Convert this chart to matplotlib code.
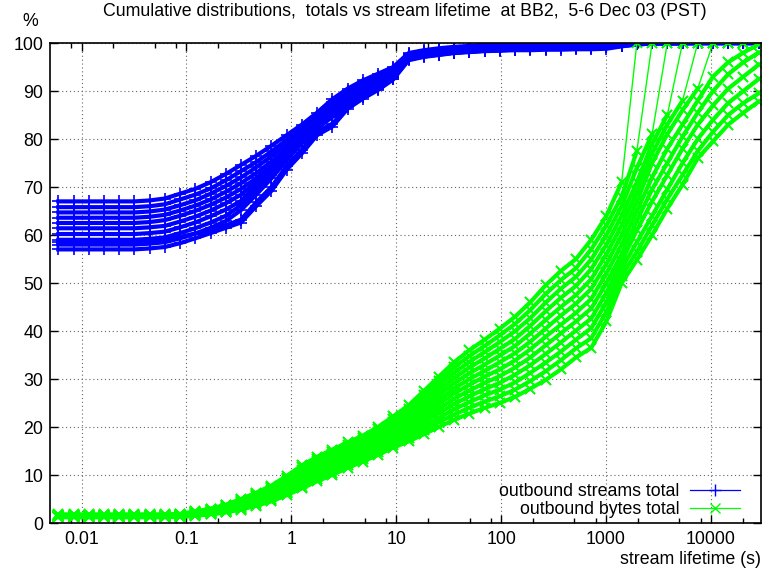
import numpy as np
import matplotlib
matplotlib.use("Agg")
from matplotlib import pyplot as plt
from matplotlib.ticker import FixedLocator, NullFormatter

plt.rcParams['font.family'] = ['Liberation Sans', 'DejaVu Sans']
plt.rcParams['font.size'] = 12.8

# lifetime bins (s)
lifetime_s = [0.0060, 0.0084, 0.0117, 0.0163, 0.0228, 0.0319, 0.0446, 0.0622, 0.0869,
              0.121, 0.170, 0.237, 0.331, 0.462, 0.646, 0.902, 1.26, 1.76, 2.46, 3.44,
              4.80, 6.70, 9.36, 13.1, 18.3, 25.5, 35.6, 49.8, 69.6, 97.1, 136, 190,
              265, 370, 517, 722, 1008, 1408, 1967, 2748, 3837, 5360, 7487, 10460,
              14610, 20410, 28500]

# cumulative % of outbound streams, one list per interval
streams_pct = [
    [57.0, 57.0, 57.0, 57.0, 57.0, 57.0, 57.2, 57.5, 58.3, 59.3, 60.4, 61.5,
     62.6, 66.0, 69.2, 73.6, 77.0, 80.8, 82.6, 86.3, 88.4, 90.2, 92.4,
     96.4, 97.1, 97.5, 97.9, 98.1, 98.3, 98.4, 98.5, 98.5, 98.6, 98.6, 98.7, 98.7, 98.8,
     99.3, 99.7, 99.9, 99.9, 99.9, 100, 100, 100, 100, 100],
    [58.5, 58.5, 58.5, 58.5, 58.5, 58.5, 58.7, 59.0, 59.6, 60.3, 61.0, 62.0,
     63.2, 66.8, 70.0, 74.4, 77.8, 81.5, 83.2, 86.6, 88.8, 90.6, 92.7,
     96.6, 97.2, 97.6, 98.0, 98.2, 98.4, 98.5, 98.6, 98.7, 98.8, 98.9, 99.0, 99.0, 99.1,
     99.4, 99.7, 99.9, 99.9, 100, 100, 100, 100, 100, 100],
    [58.0, 58.0, 58.0, 58.0, 58.0, 58.0, 58.2, 58.5, 59.3, 60.3, 61.5, 62.9,
     65.2, 68.4, 71.8, 75.6, 79.1, 82.2, 84.6, 86.8, 88.8, 90.5, 92.6,
     96.6, 97.2, 97.6, 98.0, 98.2, 98.4, 98.5, 98.6, 98.7, 98.8, 98.9, 99.0, 99.0, 99.1,
     99.4, 99.7, 99.9, 100, 100, 100, 100, 100, 100, 100],
    [59.0, 59.0, 59.0, 59.0, 59.0, 59.0, 59.2, 59.5, 60.4, 61.4, 62.6, 64.0,
     66.2, 69.3, 72.6, 76.3, 79.7, 82.7, 85.1, 87.2, 89.2, 90.9, 92.9,
     96.7, 97.4, 97.8, 98.2, 98.4, 98.6, 98.7, 98.8, 98.9, 99.0, 99.1, 99.2, 99.2, 99.3,
     99.5, 99.8, 100, 100, 100, 100, 100, 100, 100, 100],
    [60.2, 60.2, 60.2, 60.2, 60.2, 60.2, 60.4, 60.7, 61.6, 62.6, 63.9, 65.3,
     67.1, 70.3, 73.4, 77.0, 80.2, 83.1, 85.6, 87.6, 89.6, 91.2, 93.2,
     96.9, 97.5, 98.0, 98.3, 98.6, 98.8, 98.9, 99.0, 99.1, 99.2, 99.3, 99.3, 99.4, 99.4,
     99.6, 99.8, 100, 100, 100, 100, 100, 100, 100, 100],
    [61.4, 61.4, 61.4, 61.4, 61.4, 61.4, 61.6, 61.9, 62.8, 63.8, 65.1, 66.6,
     68.4, 71.0, 74.2, 77.6, 80.7, 83.6, 86.0, 88.0, 90.0, 91.6, 93.5,
     97.1, 97.7, 98.1, 98.5, 98.7, 98.9, 99.0, 99.1, 99.2, 99.3, 99.4, 99.4, 99.5, 99.5,
     99.6, 99.8, 100, 100, 100, 100, 100, 100, 100, 100],
    [62.5, 62.5, 62.5, 62.5, 62.5, 62.5, 62.7, 63.1, 64.0, 65.0, 66.3, 67.8,
     69.6, 71.8, 74.6, 77.9, 80.9, 83.8, 86.2, 88.5, 90.4, 92.0, 93.8,
     97.2, 97.8, 98.2, 98.6, 98.8, 99.0, 99.1, 99.2, 99.3, 99.4, 99.5, 99.5, 99.6, 99.6,
     99.7, 99.9, 100, 100, 100, 100, 100, 100, 100, 100],
    [63.6, 63.6, 63.6, 63.6, 63.6, 63.6, 63.8, 64.2, 65.1, 66.1, 67.4, 69.0,
     70.8, 72.9, 75.3, 78.0, 80.6, 83.5, 86.5, 89.0, 90.8, 92.4, 94.1,
     97.4, 98.0, 98.4, 98.7, 98.9, 99.1, 99.2, 99.3, 99.4, 99.5, 99.6, 99.6, 99.7, 99.7,
     99.8, 99.9, 100, 100, 100, 100, 100, 100, 100, 100],
    [64.7, 64.7, 64.7, 64.7, 64.7, 64.7, 64.9, 65.3, 66.2, 67.2, 68.6, 70.2,
     72.0, 74.1, 76.4, 78.9, 81.4, 84.1, 87.1, 89.5, 91.3, 92.8, 94.4,
     97.6, 98.2, 98.6, 98.9, 99.1, 99.3, 99.4, 99.5, 99.6, 99.7, 99.7, 99.8, 99.8, 99.8,
     99.9, 99.9, 100, 100, 100, 100, 100, 100, 100, 100],
    [65.8, 65.8, 65.8, 65.8, 65.8, 65.8, 66.0, 66.4, 67.4, 68.4, 69.7, 71.4,
     73.3, 75.2, 77.4, 79.8, 82.2, 84.8, 87.7, 90.0, 91.7, 93.2, 94.7,
     97.7, 98.3, 98.7, 99.0, 99.2, 99.4, 99.5, 99.6, 99.7, 99.8, 99.8, 99.8, 99.9, 99.9,
     99.9, 100, 100, 100, 100, 100, 100, 100, 100, 100],
    [67.0, 67.0, 67.0, 67.0, 67.0, 67.0, 67.2, 67.6, 68.6, 69.6, 71.0, 72.7,
     74.6, 76.5, 78.6, 80.8, 83.0, 85.5, 88.3, 90.5, 92.2, 93.6, 95.0,
     97.9, 98.5, 98.9, 99.2, 99.4, 99.6, 99.7, 99.7, 99.8, 99.8, 99.9, 99.9, 99.9, 100,
     100, 100, 100, 100, 100, 100, 100, 100, 100, 100],
]

# cumulative % of outbound bytes, one list per interval
bytes_pct = [
    [1.2, 1.2, 1.2, 1.2, 1.2, 1.2, 1.2, 1.2, 1.3,
     1.5, 1.8, 2.2, 2.8, 3.6, 4.5, 5.8, 7.2, 8.7, 10.0, 11.5, 12.8, 14.2, 15.7,
     17.0, 18.5, 20.0, 21.5, 22.8, 24.0, 25.0, 26.3, 28.0, 29.8, 32.0, 34.5, 36.5, 42.0,
     50.0, 54.8, 60.0, 65.5, 70.5, 76.0, 79.5, 83.0, 85.5, 87.8],
    [1.25, 1.25, 1.25, 1.25, 1.25, 1.25, 1.25, 1.25, 1.35,
     1.6, 1.9, 2.3, 3.0, 3.8, 4.8, 6.2, 7.6, 9.2, 10.5, 12.0, 13.3, 14.7, 16.3,
     17.7, 19.3, 21.0, 22.6, 24.0, 25.3, 26.4, 27.8, 29.6, 31.6, 33.9, 36.4, 38.5, 44.0,
     51.5, 56.5, 62.0, 67.5, 72.5, 77.5, 81.5, 85.0, 87.5, 89.5],
    [1.3, 1.3, 1.3, 1.3, 1.3, 1.3, 1.3, 1.3, 1.4,
     1.7, 2.0, 2.5, 3.2, 4.1, 5.1, 6.5, 8.1, 9.6, 11.0, 12.5, 13.8, 15.3, 16.9,
     18.4, 20.1, 21.9, 23.7, 25.2, 26.6, 27.8, 29.3, 31.3, 33.4, 35.7, 38.2, 40.6, 46.0,
     53.0, 58.5, 64.0, 69.5, 75.0, 80.0, 84.0, 87.5, 90.0, 92.5],
    [1.35, 1.35, 1.35, 1.35, 1.35, 1.35, 1.35, 1.35, 1.45,
     1.7, 2.1, 2.6, 3.4, 4.3, 5.4, 6.9, 8.5, 10.1, 11.4, 12.9, 14.3, 15.8, 17.5,
     19.0, 21.0, 22.9, 24.8, 26.4, 27.9, 29.2, 30.9, 32.9, 35.2, 37.6, 40.1, 42.6, 48.0,
     54.5, 61.0, 67.0, 72.5, 78.0, 83.0, 87.0, 90.5, 93.0, 95.5],
    [1.4, 1.4, 1.4, 1.4, 1.4, 1.4, 1.4, 1.4, 1.5,
     1.8, 2.2, 2.8, 3.6, 4.6, 5.7, 7.3, 8.9, 10.6, 11.9, 13.4, 14.8, 16.3, 18.1,
     19.7, 21.8, 23.8, 25.9, 27.6, 29.2, 30.6, 32.4, 34.5, 37.0, 39.5, 42.0, 44.7, 50.0,
     56.0, 63.0, 69.5, 75.0, 80.5, 85.5, 90.0, 93.5, 96.0, 98.0],
    [1.45, 1.45, 1.45, 1.45, 1.45, 1.45, 1.45, 1.45, 1.55,
     1.9, 2.3, 2.9, 3.8, 4.8, 6.0, 7.6, 9.4, 11.0, 12.4, 13.9, 15.3, 16.8, 18.7,
     20.4, 22.6, 24.8, 27.0, 28.8, 30.5, 32.0, 33.9, 36.2, 38.8, 41.3, 43.8, 46.7, 52.0,
     58.0, 65.0, 72.0, 78.0, 83.0, 88.0, 93.0, 96.0, 98.0, 99.7],
    [1.5, 1.5, 1.5, 1.5, 1.5, 1.5, 1.5, 1.5, 1.6,
     2.0, 2.5, 3.1, 4.0, 5.1, 6.3, 8.0, 9.8, 11.5, 12.9, 14.4, 15.7, 17.4, 19.2,
     21.1, 23.4, 25.7, 28.0, 30.0, 31.7, 33.5, 35.4, 37.8, 40.5, 43.2, 45.7, 48.8, 54.0,
     60.0, 67.0, 75.0, 81.0, 86.0, 90.5, 100, 100, 100, 100],
    [1.55, 1.55, 1.55, 1.55, 1.55, 1.55, 1.55, 1.55, 1.65,
     2.1, 2.6, 3.2, 4.2, 5.3, 6.6, 8.3, 10.3, 11.9, 13.4, 14.9, 16.2, 17.9, 19.8,
     21.8, 24.2, 26.7, 29.1, 31.2, 33.0, 34.9, 36.9, 39.5, 42.3, 45.0, 47.5, 50.8, 56.0,
     62.0, 69.0, 77.0, 83.0, 88.0, 100, 100, 100, 100, 100],
    [1.6, 1.6, 1.6, 1.6, 1.6, 1.6, 1.6, 1.6, 1.7,
     2.2, 2.7, 3.4, 4.4, 5.6, 6.9, 8.7, 10.7, 12.4, 13.9, 15.4, 16.7, 18.4, 20.4,
     22.5, 25.0, 27.6, 30.2, 32.4, 34.3, 36.3, 38.4, 41.1, 44.1, 46.9, 49.4, 52.9, 58.0,
     64.0, 71.0, 79.0, 85.0, 100, 100, 100, 100, 100, 100],
    [1.65, 1.65, 1.65, 1.65, 1.65, 1.65, 1.65, 1.65, 1.75,
     2.2, 2.8, 3.5, 4.6, 5.8, 7.2, 9.1, 11.1, 12.9, 14.3, 15.8, 17.2, 18.9, 21.0,
     23.1, 25.9, 28.6, 31.3, 33.6, 35.6, 37.7, 40.0, 42.7, 45.9, 48.8, 51.3, 54.9, 60.0,
     66.0, 74.0, 81.0, 100, 100, 100, 100, 100, 100, 100],
    [1.7, 1.7, 1.7, 1.7, 1.7, 1.7, 1.7, 1.7, 1.8,
     2.3, 2.9, 3.7, 4.8, 6.1, 7.5, 9.4, 11.6, 13.3, 14.8, 16.3, 17.7, 19.5, 21.6,
     23.8, 26.7, 29.5, 32.4, 34.8, 36.9, 39.1, 41.5, 44.4, 47.7, 50.6, 53.1, 57.0, 62.0,
     68.0, 77.5, 100, 100, 100, 100, 100, 100, 100, 100],
    [1.8, 1.8, 1.8, 1.8, 1.8, 1.8, 1.8, 1.8, 1.9,
     2.4, 3.0, 3.8, 5.0, 6.3, 7.8, 9.8, 12.0, 13.8, 15.3, 16.8, 18.2, 20.0, 22.2,
     24.5, 27.5, 30.5, 33.5, 36.0, 38.2, 40.5, 43.0, 46.0, 49.5, 52.5, 55.0, 59.0, 64.0,
     71.0, 100, 100, 100, 100, 100, 100, 100, 100, 100],
]

xtick_vals = [0.01, 0.1, 1, 10, 100, 1000, 10000]
xtick_text = ["0.01", "0.1", "1", "10", "100", "1000", "10000"]
xminor_vals = [0.008, 0.02, 0.05, 0.08, 0.2, 0.5, 0.8, 2, 5, 8, 20, 50, 80,
               200, 500, 800, 2000, 5000, 8000, 20000]
ytick_vals = [0, 10, 20, 30, 40, 50, 60, 70, 80, 90, 100]

fig = plt.figure(figsize=(7.65, 5.73), dpi=100)
ax = fig.add_axes([50/765, 50/573, 711/765, 480/573])

for i, ys in enumerate(streams_pct):
    ax.plot(lifetime_s, ys, color='#0000ff', lw=3, marker='+', ms=8, mew=1.2,
            label='outbound streams total' if i == 0 else None)

for i, ys in enumerate(bytes_pct):
    ys = np.array(ys)
    # heavy stroke only where the curve is still inside the band,
    # the last jump up to 100 % stays a thin line as in gnuplot
    band = np.where(ys < 100, ys, np.nan)
    ax.plot(lifetime_s, band, color='#00ff00', lw=3, marker='x', ms=7, mew=1.2)
    ax.plot(lifetime_s, ys, color='#00ff00', lw=1, marker='x', ms=7, mew=1.2,
            label='outbound bytes total' if i == 0 else None)

ax.set_xscale('log')
ax.set_xlim(0.005, 30000)
ax.set_ylim(0, 100)
ax.xaxis.set_major_locator(FixedLocator(xtick_vals))
ax.set_xticklabels(xtick_text)
ax.xaxis.set_minor_locator(FixedLocator(xminor_vals))
ax.xaxis.set_minor_formatter(NullFormatter())
ax.set_yticks(ytick_vals)

ax.tick_params(which='both', direction='in', top=True, right=True)
ax.tick_params(which='major', length=6, width=1)
ax.tick_params(which='minor', length=3.5, width=1)
ax.tick_params(axis='x', pad=6)
ax.tick_params(axis='y', pad=5)
for s in ax.spines.values():
    s.set_linewidth(1.2)

ax.set_axisbelow(True)
ax.grid(True, which='major', color='0.4', linestyle=(0, (1, 2.5)), lw=0.8)

leg = ax.legend(loc='lower right', bbox_to_anchor=(740/765, 55/573),
                bbox_transform=fig.transFigure, frameon=False, markerfirst=False,
                handlelength=2.8, handletextpad=0.6, labelspacing=0.05,
                borderpad=0, borderaxespad=0)
for h in leg.legend_handles:
    h.set_linewidth(0.9)
    h.set_markeredgewidth(1)

fig.text(405/765, 1 - 12/573,
         'Cumulative distributions,  totals vs stream lifetime  at BB2,  5-6 Dec 03 (PST)',
         ha='center', va='center')
fig.text(30/765, 1 - 22/573, '%', ha='center', va='center')
fig.text(761/765, 1 - 560/573, 'stream lifetime (s)', ha='right', va='center')

fig.savefig('out.png', dpi=100)
